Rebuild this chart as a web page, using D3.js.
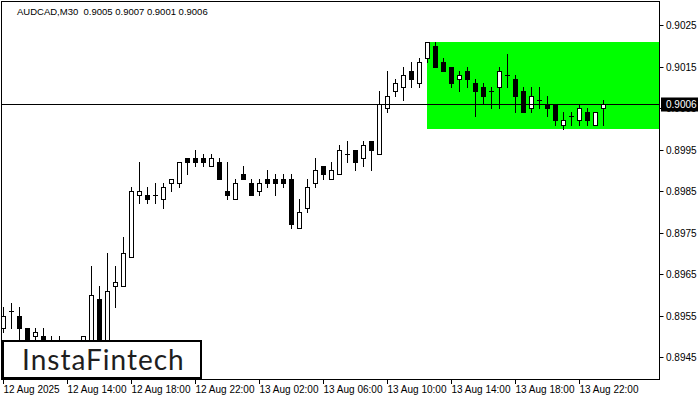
<!DOCTYPE html>
<html>
<head>
<meta charset="utf-8">
<script src="https://cdn.jsdelivr.net/npm/d3@7"></script>
<style>
  html, body { margin: 0; padding: 0; background: #ffffff; }
  svg { display: block; }
</style>
</head>
<body>
<script>
// ---------------- data ----------------
const symbolLabel = "AUDCAD,M30";
const opens = [
  0.8952, 0.8956, 0.8955, 0.8952, 0.8950, 0.8950, 0.8947, 0.8948, 0.8947, 0.8948,
  0.8947, 0.8949, 0.8959, 0.8949, 0.8962, 0.8962, 0.8969, 0.8984, 0.8984, 0.8984,
  0.8983, 0.8987, 0.8987, 0.8993, 0.8993, 0.8993, 0.8991, 0.8992, 0.8985, 0.8983,
  0.8989, 0.8987, 0.8985, 0.8988, 0.8988, 0.8988, 0.8988, 0.8976, 0.8981, 0.8987,
  0.8991, 0.8988, 0.8989, 0.8994, 0.8995, 0.8993, 0.8997, 0.8994, 0.9005, 0.9009,
  0.9010, 0.9014, 0.9011, 0.9017, 0.9020, 0.9016, 0.9015, 0.9012, 0.9014, 0.9011,
  0.9010, 0.9009, 0.9010, 0.9013, 0.9012, 0.9009, 0.9005, 0.9007, 0.9006, 0.9006,
  0.9001, 0.9003, 0.9002, 0.9004, 0.9001, 0.9005
];
const highs = [
  0.8957, 0.8958, 0.8957, 0.8952, 0.8952, 0.8952, 0.8950, 0.8950, 0.8949, 0.8949,
  0.8950, 0.8967, 0.8962, 0.8970, 0.8967, 0.8974, 0.8986, 0.8992, 0.8986, 0.8987,
  0.8987, 0.8988, 0.8992, 0.8993, 0.8995, 0.8994, 0.8994, 0.8993, 0.8992, 0.8988,
  0.8991, 0.8988, 0.8988, 0.8990, 0.8989, 0.8989, 0.8989, 0.8983, 0.8988, 0.8993,
  0.8991, 0.8992, 0.8996, 0.8997, 0.8995, 0.8997, 0.8997, 0.9009, 0.9014, 0.9012,
  0.9015, 0.9016, 0.9017, 0.9021, 0.9021, 0.9017, 0.9015, 0.9014, 0.9015, 0.9012,
  0.9011, 0.9010, 0.9015, 0.9018, 0.9013, 0.9010, 0.9010, 0.9010, 0.9008, 0.9006,
  0.9004, 0.9004, 0.9006, 0.9005, 0.9004, 0.9007
];
const lows = [
  0.8951, 0.8952, 0.8949, 0.8946, 0.8948, 0.8946, 0.8945, 0.8945, 0.8945, 0.8944,
  0.8946, 0.8946, 0.8947, 0.8947, 0.8957, 0.8962, 0.8969, 0.8982, 0.8982, 0.8982,
  0.8981, 0.8985, 0.8986, 0.8989, 0.8991, 0.8991, 0.8991, 0.8988, 0.8983, 0.8983,
  0.8988, 0.8984, 0.8984, 0.8986, 0.8984, 0.8986, 0.8976, 0.8976, 0.8980, 0.8986,
  0.8988, 0.8988, 0.8989, 0.8992, 0.8990, 0.8991, 0.8990, 0.8994, 0.9004, 0.9008,
  0.9007, 0.9010, 0.9010, 0.9016, 0.9015, 0.9014, 0.9010, 0.9009, 0.9010, 0.9003,
  0.9006, 0.9005, 0.9005, 0.9010, 0.9004, 0.9004, 0.9004, 0.9005, 0.9003, 0.9001,
  0.9000, 0.9001, 0.9001, 0.9001, 0.9001, 0.9001
];
const closes = [
  0.8955, 0.8956, 0.8952, 0.8948, 0.8951, 0.8947, 0.8948, 0.8947, 0.8948, 0.8947,
  0.8950, 0.8960, 0.8949, 0.8961, 0.8963, 0.8970, 0.8985, 0.8985, 0.8983, 0.8984,
  0.8986, 0.8988, 0.8992, 0.8992, 0.8992, 0.8992, 0.8993, 0.8988, 0.8984, 0.8987,
  0.8988, 0.8984, 0.8987, 0.8987, 0.8987, 0.8987, 0.8977, 0.8980, 0.8986, 0.8990,
  0.8989, 0.8990, 0.8995, 0.8994, 0.8992, 0.8996, 0.8995, 0.9006, 0.9008, 0.9011,
  0.9013, 0.9012, 0.9016, 0.9021, 0.9015, 0.9014, 0.9011, 0.9013, 0.9012, 0.9009,
  0.9008, 0.9009, 0.9014, 0.9013, 0.9008, 0.9004, 0.9008, 0.9007, 0.9005, 0.9002,
  0.9002, 0.9003, 0.9005, 0.9002, 0.9004, 0.9006
];
const xTickLabels = ["12 Aug 2025", "12 Aug 14:00", "12 Aug 18:00", "12 Aug 22:00",
  "13 Aug 02:00", "13 Aug 06:00", "13 Aug 10:00", "13 Aug 14:00", "13 Aug 18:00", "13 Aug 22:00"];
const barsPerXTick = 8;
const yTicks = [0.9025, 0.9015, 0.9005, 0.8995, 0.8985, 0.8975, 0.8965, 0.8955, 0.8945];
const currentPrice = 0.9006;
const patternStartBar = 53;
const patternTop = 0.9021;
const patternBottom = 0.9000;
const logoText = "InstaFintech";

// ---------------- layout ----------------
const W = 700, H = 400;
const plotL = 1, plotT = 1, plotR = 659, plotB = 379;
const FONT = "'Liberation Sans', Arial, sans-serif";

const svg = d3.select("body").append("svg")
  .attr("width", W).attr("height", H);
svg.append("rect").attr("width", W).attr("height", H).attr("fill", "#fff");

const n = opens.length;
const x = d3.scaleLinear().domain([0, n - 1]).range([3.5, 3.5 + 8 * (n - 1)]);
const y = d3.scaleLinear().domain([0.8945, 0.9025]).range([357, 25]);
const ry = v => Math.round(y(v));

svg.append("clipPath").attr("id", "plotclip")
  .append("rect").attr("x", plotL + 1).attr("y", plotT + 1)
  .attr("width", plotR - plotL - 1).attr("height", plotB - plotT - 1);

const plot = svg.append("g").attr("clip-path", "url(#plotclip)");

// pattern rectangle
plot.append("rect")
  .attr("x", Math.floor(x(patternStartBar)))
  .attr("y", ry(patternTop))
  .attr("width", plotR - Math.floor(x(patternStartBar)))
  .attr("height", ry(patternBottom) - ry(patternTop))
  .attr("fill", "#00ff00");

// candles
const bars = d3.range(n).map(i => ({ i, o: opens[i], h: highs[i], l: lows[i], c: closes[i] }));
const cg = plot.append("g");
bars.forEach(d => {
  const xc = x(d.i);
  cg.append("line")
    .attr("x1", xc).attr("x2", xc)
    .attr("y1", ry(d.h)).attr("y2", ry(d.l) + 1)
    .attr("stroke", "#000").attr("stroke-width", 1);
  const yo = ry(d.o), yc = ry(d.c);
  if (yo === yc) {
    cg.append("line")
      .attr("x1", xc - 2.5).attr("x2", xc + 2.5)
      .attr("y1", yo + 0.5).attr("y2", yo + 0.5)
      .attr("stroke", "#000").attr("stroke-width", 1);
  } else if (d.c > d.o) {
    cg.append("rect")
      .attr("x", xc - 2).attr("y", yc + 0.5)
      .attr("width", 4).attr("height", yo - yc)
      .attr("fill", "#fff").attr("stroke", "#000").attr("stroke-width", 1);
  } else {
    cg.append("rect")
      .attr("x", xc - 2.5).attr("y", yo)
      .attr("width", 5).attr("height", yc - yo + 1)
      .attr("fill", "#000");
  }
});

// current price line
plot.append("line")
  .attr("x1", plotL).attr("x2", plotR)
  .attr("y1", ry(currentPrice) + 0.5).attr("y2", ry(currentPrice) + 0.5)
  .attr("stroke", "#000").attr("stroke-width", 1);

// frame
svg.append("rect")
  .attr("x", plotL + 0.5).attr("y", plotT + 0.5)
  .attr("width", plotR - plotL).attr("height", plotB - plotT)
  .attr("fill", "none").attr("stroke", "#000").attr("stroke-width", 1);

// y axis ticks and labels
const yAxis = svg.append("g");
yTicks.forEach(v => {
  const yy = ry(v) + 0.5;
  yAxis.append("line").attr("x1", plotR + 0.5).attr("x2", plotR + 4.5)
    .attr("y1", yy).attr("y2", yy).attr("stroke", "#000");
  yAxis.append("text").attr("x", plotR + 7).attr("y", yy)
    .attr("dy", "0.35em")
    .attr("font-family", FONT).attr("font-size", 10).attr("fill", "#000")
    .text(d3.format(".4f")(v));
});

// current price label
const cpY = ry(currentPrice) + 0.5;
svg.append("rect").attr("x", plotR + 2).attr("y", cpY - 7)
  .attr("width", 37).attr("height", 14).attr("fill", "#000");
svg.append("text").attr("x", plotR + 7).attr("y", cpY).attr("dy", "0.35em")
  .attr("font-family", FONT).attr("font-size", 10).attr("fill", "#fff")
  .text(d3.format(".4f")(currentPrice));

// x axis ticks and labels
const xAxis = svg.append("g");
xTickLabels.forEach((lab, k) => {
  const xc = x(k * barsPerXTick);
  xAxis.append("line").attr("x1", xc).attr("x2", xc)
    .attr("y1", plotB + 1).attr("y2", plotB + 5).attr("stroke", "#000");
  xAxis.append("text").attr("x", xc).attr("y", plotB + 14)
    .attr("font-family", FONT).attr("font-size", 10).attr("fill", "#000")
    .text(lab);
});

// header
const last = n - 1;
svg.append("text").attr("x", 17).attr("y", 15)
  .attr("font-family", FONT).attr("font-size", 9.5).attr("fill", "#000")
  .attr("xml:space", "preserve").style("white-space", "pre")
  .text(symbolLabel + "  " + [opens[last], highs[last], lows[last], closes[last]].map(d3.format(".4f")).join(" "));

// logo
svg.append("rect").attr("x", 3).attr("y", 341).attr("width", 198).attr("height", 37)
  .attr("fill", "#fff").attr("stroke", "#000").attr("stroke-width", 2);
svg.append("text").attr("x", 22).attr("y", 370)
  .attr("font-family", "Lato, 'Open Sans', sans-serif").attr("font-size", 28)
  .attr("letter-spacing", 1)
  .attr("fill", "#1e1e1e").text(logoText);
</script>
</body>
</html>
